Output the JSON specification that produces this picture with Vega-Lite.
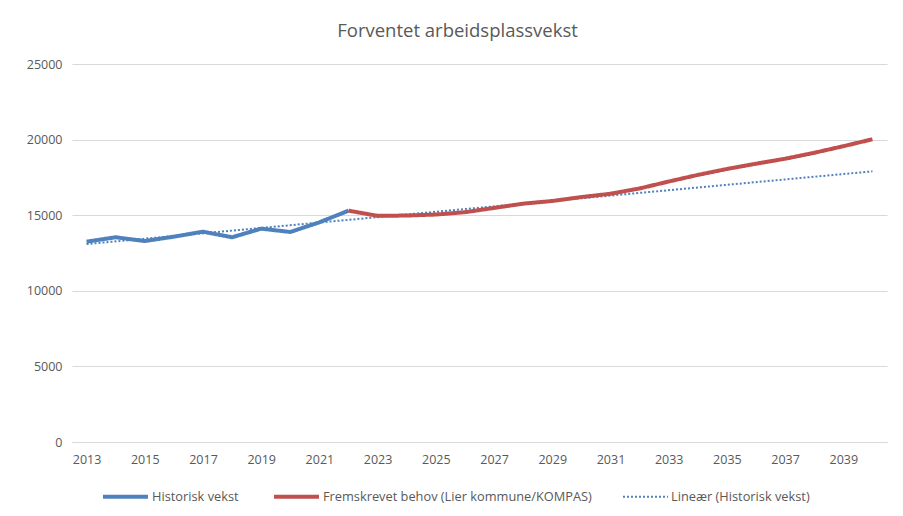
{
  "$schema": "https://vega.github.io/schema/vega-lite/v6.json",
  "autosize": "none",
  "width": 815,
  "height": 378,
  "padding": {"left": 72, "top": 64, "right": 16, "bottom": 74},
  "background": "white",
  "title": {
    "text": "Forventet arbeidsplassvekst",
    "font": "Open Sans",
    "fontSize": 18.5,
    "fontWeight": "normal",
    "color": "#595959",
    "anchor": "middle",
    "frame": "group",
    "dx": -22,
    "offset": 18
  },
  "config": {
    "view": {"stroke": null},
    "font": "Open Sans",
    "axis": {"labelFont": "Open Sans", "labelFontSize": 12.5, "labelColor": "#595959", "title": null}
  },
  "data": {
    "values": [
      {"year": 2013, "value": 13090, "serie": "Lineær (Historisk vekst)"},
      {"year": 2040, "value": 17900, "serie": "Lineær (Historisk vekst)"},
      {"year": 2013, "value": 13250, "serie": "Historisk vekst"},
      {"year": 2014, "value": 13540, "serie": "Historisk vekst"},
      {"year": 2015, "value": 13290, "serie": "Historisk vekst"},
      {"year": 2016, "value": 13580, "serie": "Historisk vekst"},
      {"year": 2017, "value": 13910, "serie": "Historisk vekst"},
      {"year": 2018, "value": 13540, "serie": "Historisk vekst"},
      {"year": 2019, "value": 14110, "serie": "Historisk vekst"},
      {"year": 2020, "value": 13890, "serie": "Historisk vekst"},
      {"year": 2021, "value": 14530, "serie": "Historisk vekst"},
      {"year": 2022, "value": 15300, "serie": "Historisk vekst"},
      {"year": 2022, "value": 15300, "serie": "Fremskrevet behov (Lier kommune/KOMPAS)"},
      {"year": 2023, "value": 14956, "serie": "Fremskrevet behov (Lier kommune/KOMPAS)"},
      {"year": 2024, "value": 14978, "serie": "Fremskrevet behov (Lier kommune/KOMPAS)"},
      {"year": 2025, "value": 15044, "serie": "Fremskrevet behov (Lier kommune/KOMPAS)"},
      {"year": 2026, "value": 15197, "serie": "Fremskrevet behov (Lier kommune/KOMPAS)"},
      {"year": 2027, "value": 15480, "serie": "Fremskrevet behov (Lier kommune/KOMPAS)"},
      {"year": 2028, "value": 15764, "serie": "Fremskrevet behov (Lier kommune/KOMPAS)"},
      {"year": 2029, "value": 15939, "serie": "Fremskrevet behov (Lier kommune/KOMPAS)"},
      {"year": 2030, "value": 16200, "serie": "Fremskrevet behov (Lier kommune/KOMPAS)"},
      {"year": 2031, "value": 16419, "serie": "Fremskrevet behov (Lier kommune/KOMPAS)"},
      {"year": 2032, "value": 16769, "serie": "Fremskrevet behov (Lier kommune/KOMPAS)"},
      {"year": 2033, "value": 17227, "serie": "Fremskrevet behov (Lier kommune/KOMPAS)"},
      {"year": 2034, "value": 17664, "serie": "Fremskrevet behov (Lier kommune/KOMPAS)"},
      {"year": 2035, "value": 18057, "serie": "Fremskrevet behov (Lier kommune/KOMPAS)"},
      {"year": 2036, "value": 18406, "serie": "Fremskrevet behov (Lier kommune/KOMPAS)"},
      {"year": 2037, "value": 18734, "serie": "Fremskrevet behov (Lier kommune/KOMPAS)"},
      {"year": 2038, "value": 19127, "serie": "Fremskrevet behov (Lier kommune/KOMPAS)"},
      {"year": 2039, "value": 19563, "serie": "Fremskrevet behov (Lier kommune/KOMPAS)"},
      {"year": 2040, "value": 20022, "serie": "Fremskrevet behov (Lier kommune/KOMPAS)"}
    ]
  },
  "mark": {"type": "line", "strokeCap": "butt", "strokeJoin": "round"},
  "encoding": {
    "x": {
      "field": "year",
      "type": "quantitative",
      "scale": {"domain": [2012.5, 2040.5], "nice": false, "zero": false},
      "axis": {
        "values": [2013, 2015, 2017, 2019, 2021, 2023, 2025, 2027, 2029, 2031, 2033, 2035, 2037, 2039],
        "format": "d",
        "grid": false,
        "ticks": false,
        "domain": true,
        "domainColor": "#d9d9d9",
        "domainWidth": 1,
        "labelPadding": 11
      }
    },
    "y": {
      "field": "value",
      "type": "quantitative",
      "scale": {"domain": [0, 25000], "nice": false},
      "axis": {
        "values": [0, 5000, 10000, 15000, 20000, 25000],
        "format": "d",
        "grid": true,
        "gridColor": "#d9d9d9",
        "gridWidth": 1,
        "ticks": false,
        "domain": false,
        "labelPadding": 10
      }
    },
    "color": {
      "field": "serie",
      "type": "nominal",
      "scale": {
        "domain": ["Historisk vekst", "Fremskrevet behov (Lier kommune/KOMPAS)", "Lineær (Historisk vekst)"],
        "range": ["#4F81BD", "#C0504D", "#4F81BD"]
      },
      "legend": {
        "title": null,
        "orient": "none",
        "direction": "horizontal",
        "legendX": 29,
        "legendY": 408,
        "symbolType": "stroke",
        "symbolSize": 2025,
        "labelFont": "Open Sans",
        "labelFontSize": 12.8,
        "labelColor": "#595959",
        "labelOffset": 2,
        "columnPadding": 27,
        "labelLimit": 400
      }
    },
    "strokeDash": {
      "field": "serie",
      "type": "nominal",
      "scale": {
        "domain": ["Historisk vekst", "Fremskrevet behov (Lier kommune/KOMPAS)", "Lineær (Historisk vekst)"],
        "range": [[1, 0], [1, 0], [2, 2]]
      },
      "legend": null
    },
    "strokeWidth": {
      "field": "serie",
      "type": "nominal",
      "scale": {
        "type": "ordinal",
        "domain": ["Historisk vekst", "Fremskrevet behov (Lier kommune/KOMPAS)", "Lineær (Historisk vekst)"],
        "range": [4, 4, 2]
      },
      "legend": null
    }
  }
}
